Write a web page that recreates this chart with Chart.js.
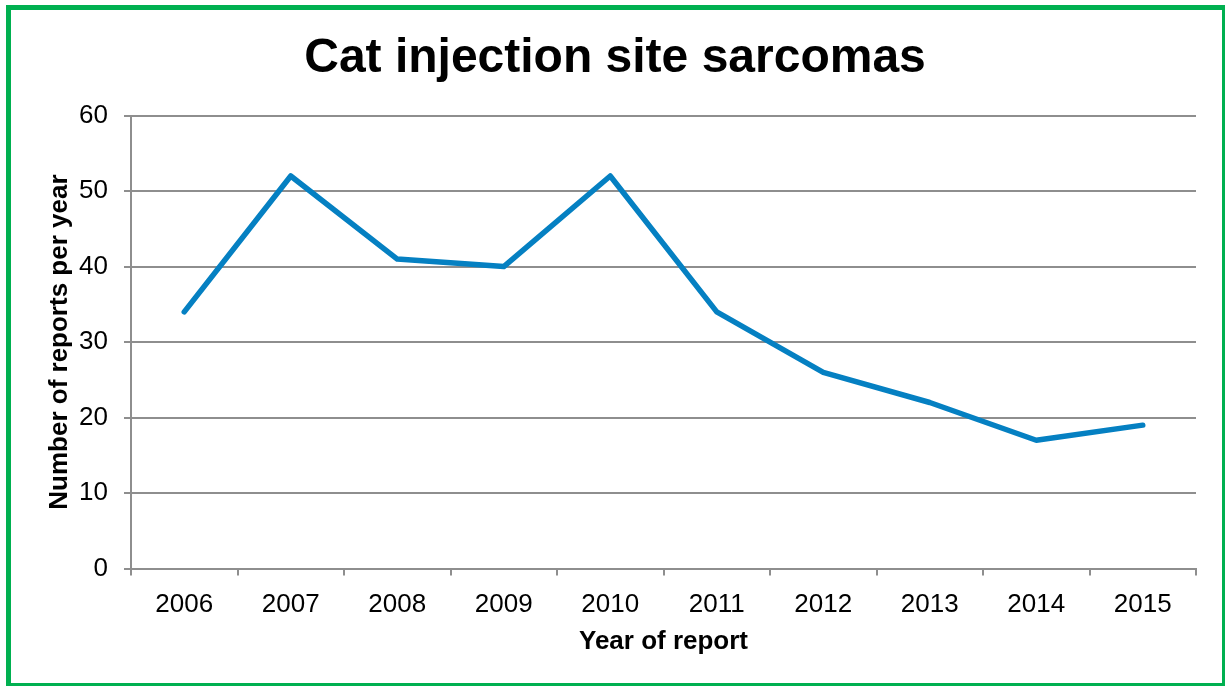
<!DOCTYPE html>
<html>
<head>
<meta charset="utf-8">
<title>Cat injection site sarcomas</title>
<script src="https://cdn.jsdelivr.net/npm/chart.js@4/dist/chart.umd.min.js"></script>
<style>
    html, body { margin: 0; padding: 0; background: #ffffff; }
    #wrap { position: relative; width: 1226px; height: 686px; }
</style>
</head>
<body>
<div id="wrap"><canvas id="sarcomaChart" width="1226" height="686"></canvas></div>
<script>
    const years = ['2006', '2007', '2008', '2009', '2010', '2011', '2012', '2013', '2014', '2015'];
    const reportsPerYear = [34, 52, 41, 40, 52, 34, 26, 22, 17, 19];
    const yTicks = [0, 10, 20, 30, 40, 50, 60];

    const colors = {
        line: '#0580c2',
        grid: '#8e8e8e',
        frame: '#00b050',
        text: '#000000'
    };
    const fontFamily = "'Liberation Sans', Arial, sans-serif";

    // green frame round the whole figure
    const framePlugin = {
        id: 'frame',
        beforeDraw(chart) {
            const ctx = chart.ctx;
            ctx.save();
            ctx.fillStyle = '#ffffff';
            ctx.fillRect(0, 0, chart.width, chart.height);
            ctx.fillStyle = colors.frame;
            ctx.fillRect(6, 5, 1219, 5);
            ctx.fillRect(6, 5, 5, 681);
            ctx.fillRect(1222, 5, 3, 681);
            ctx.fillRect(6, 683, 1219, 3);
            ctx.restore();
        }
    };

    const ctx = document.getElementById('sarcomaChart').getContext('2d');
    new Chart(ctx, {
        type: 'line',
        data: {
            labels: years,
            datasets: [{
                label: 'Reports',
                data: reportsPerYear,
                borderColor: colors.line,
                backgroundColor: colors.line,
                borderWidth: 5.5,
                borderCapStyle: 'round',
                borderJoinStyle: 'round',
                pointRadius: 0,
                pointHoverRadius: 0,
                tension: 0,
                fill: false
            }]
        },
        options: {
            responsive: false,
            animation: false,
            devicePixelRatio: 1,
            layout: {
                padding: { left: 34, right: 30, top: 10, bottom: 29 }
            },
            plugins: {
                legend: { display: false },
                tooltip: { enabled: false },
                title: {
                    display: true,
                    text: 'Cat injection site sarcomas',
                    color: colors.text,
                    font: { family: fontFamily, size: 48, weight: 'bold' },
                    padding: { top: 20, bottom: 28 }
                }
            },
            scales: {
                x: {
                    type: 'category',
                    offset: true,
                    grid: {
                        offset: true,
                        drawOnChartArea: false,
                        drawTicks: true,
                        tickLength: 7,
                        color: colors.grid,
                        lineWidth: 2
                    },
                    border: { display: true, color: colors.grid, width: 2 },
                    ticks: {
                        color: colors.text,
                        font: { family: fontFamily, size: 26 },
                        padding: 14,
                        maxRotation: 0
                    },
                    title: {
                        display: true,
                        text: 'Year of report',
                        color: colors.text,
                        font: { family: fontFamily, size: 26, weight: 'bold' },
                        padding: { top: -9, bottom: 0 }
                    }
                },
                y: {
                    min: 0,
                    max: 60,
                    afterFit(scale) {
                        scale.width = 97;
                    },
                    afterBuildTicks(scale) {
                        scale.ticks = yTicks.map((v) => ({ value: v }));
                    },
                    grid: {
                        drawTicks: true,
                        tickLength: 7,
                        color: colors.grid,
                        lineWidth: 2
                    },
                    border: { display: true, color: colors.grid, width: 2 },
                    ticks: {
                        color: colors.text,
                        font: { family: fontFamily, size: 26 },
                        padding: 16
                    },
                    title: {
                        display: true,
                        text: 'Number of reports per year',
                        color: colors.text,
                        font: { family: fontFamily, size: 26, weight: 'bold' },
                        padding: { top: 10, bottom: 0 }
                    }
                }
            }
        },
        plugins: [framePlugin]
    });
</script>
</body>
</html>
